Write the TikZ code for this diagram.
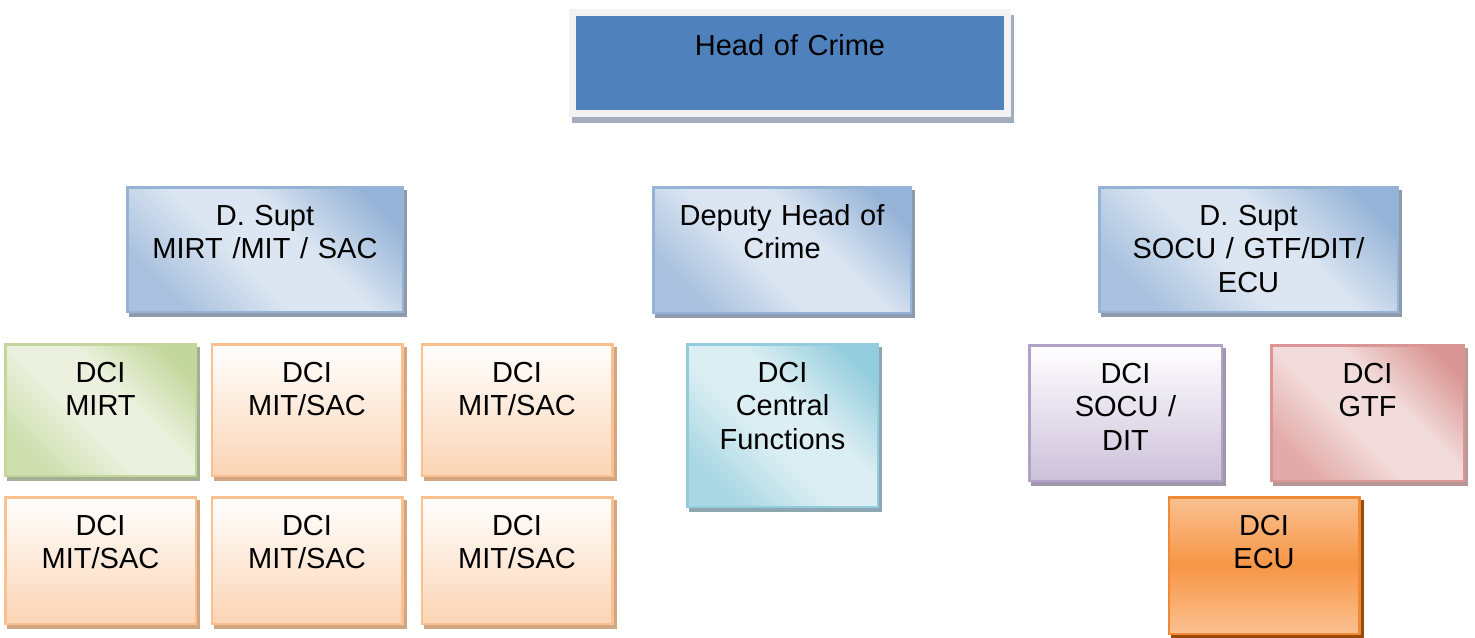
\documentclass[tikz,border=0pt]{standalone}
\usepackage{fontspec}
\setmainfont{Liberation Sans}
\usetikzlibrary{shadows}
\definecolor{hocfill}{HTML}{4F81BD}
\definecolor{hocframe}{HTML}{F2F2F2}
\definecolor{hocshadow}{HTML}{A3ACBA}
\definecolor{suptdark}{HTML}{95B3D7}
\definecolor{suptmid}{HTML}{A9C1DE}
\definecolor{suptlight}{HTML}{DCE6F2}
\definecolor{suptline}{HTML}{95B3D7}
\definecolor{suptshadow}{HTML}{8E9BAD}
\definecolor{mirtdark}{HTML}{C3D69B}
\definecolor{mirtmid}{HTML}{CFDFAF}
\definecolor{mirtlight}{HTML}{EBF1DE}
\definecolor{mirtshadow}{HTML}{A6AE94}
\definecolor{mitdark}{HTML}{FBD4B4}
\definecolor{mitline}{HTML}{FAC090}
\definecolor{mitshadow}{HTML}{D2A583}
\definecolor{cfdark}{HTML}{93CDDD}
\definecolor{cfmid}{HTML}{A9D7E3}
\definecolor{cflight}{HTML}{DBEEF3}
\definecolor{cfshadow}{HTML}{8CA7B0}
\definecolor{socudark}{HTML}{CCC1DA}
\definecolor{soculine}{HTML}{B3A2C7}
\definecolor{socushadow}{HTML}{A097AC}
\definecolor{gtfdark}{HTML}{D99694}
\definecolor{gtfmid}{HTML}{E2ABA9}
\definecolor{gtflight}{HTML}{F2DCDB}
\definecolor{gtfshadow}{HTML}{B89896}
\definecolor{ecumid}{HTML}{F79646}
\definecolor{ecuedge}{HTML}{FAC090}
\definecolor{eculine}{HTML}{F08A38}
\definecolor{ecushadow}{HTML}{9C4A08}
\pgfdeclareverticalshading{suptshade}{100bp}{color(0bp)=(suptmid); color(25bp)=(suptmid);
  color(44bp)=(suptlight); color(58bp)=(suptlight); color(78bp)=(suptdark); color(100bp)=(suptdark)}
\pgfdeclareverticalshading{mirtshade}{100bp}{color(0bp)=(mirtmid); color(25bp)=(mirtmid);
  color(44bp)=(mirtlight); color(58bp)=(mirtlight); color(78bp)=(mirtdark); color(100bp)=(mirtdark)}
\pgfdeclareverticalshading{cfshade}{100bp}{color(0bp)=(cfmid); color(25bp)=(cfmid);
  color(44bp)=(cflight); color(58bp)=(cflight); color(78bp)=(cfdark); color(100bp)=(cfdark)}
\pgfdeclareverticalshading{gtfshade}{100bp}{color(0bp)=(gtfmid); color(25bp)=(gtfmid);
  color(44bp)=(gtflight); color(58bp)=(gtflight); color(78bp)=(gtfdark); color(100bp)=(gtfdark)}
\begin{document}
\begin{tikzpicture}
  [x=0.5pt, y=-0.5pt,
  every node/.style={rectangle, inner sep=0pt, outer sep=0pt},
  unit/.style={line width=1.25pt},
  unitshadow/.style={general shadow={fill=#1, draw=#1, shadow xshift=1.5pt, shadow yshift=-2pt}},
  headbox/.style={fill=hocfill, draw=hocframe, line width=3.5pt,
    general shadow={fill=hocshadow, draw=hocshadow, shadow xshift=1.5pt, shadow yshift=-3pt}},
  suptbox/.style={unit, draw=suptline, shade, shading=suptshade, shading angle=-45, unitshadow=suptshadow},
  mirtbox/.style={unit, draw=mirtdark, shade, shading=mirtshade, shading angle=-45, unitshadow=mirtshadow},
  mitbox/.style={unit, draw=mitline, top color=white, bottom color=mitdark, unitshadow=mitshadow},
  cfbox/.style={unit, draw=cfdark, shade, shading=cfshade, shading angle=-45, unitshadow=cfshadow},
  socubox/.style={unit, draw=soculine, top color=white, bottom color=socudark, unitshadow=socushadow},
  gtfbox/.style={unit, draw=gtfdark, shade, shading=gtfshade, shading angle=-45, unitshadow=gtfshadow},
  ecubox/.style={unit, draw=eculine, top color=ecuedge, bottom color=ecuedge,
    middle color=ecumid, unitshadow=ecushadow},
  dcisize/.style={minimum width=95.25pt, minimum height=#1},
  txt/.style={anchor=base, text width=150pt, align=center,
    font=\fontsize{14.5pt}{16.75pt}\selectfont}]
  \useasboundingbox[fill=white] (0,0) rectangle (1475,637);

  \node[headbox, minimum width=217.5pt, minimum height=50.5pt] (hoc) at (790,63) {};
  \node[txt] (hoc-txt) at ([yshift=-21.25pt]hoc.north) {Head of Crime};

  \node[suptbox, minimum width=137.75pt, minimum height=62.25pt] (supt-mirt) at (265,249.5) {};
  \node[txt] (supt-mirt-txt) at ([yshift=-18.9pt]supt-mirt.north) {D. Supt\\MIRT /MIT / SAC};
  \node[suptbox, minimum width=128.75pt, minimum height=62.75pt] (deputy) at (782,250) {};
  \node[txt] (deputy-txt) at ([yshift=-18.9pt]deputy.north) {Deputy Head of\\Crime};
  \node[suptbox, minimum width=149.25pt, minimum height=62.25pt] (supt-socu) at (1248.5,249.5) {};
  \node[txt] (supt-socu-txt) at ([yshift=-18.9pt]supt-socu.north) {D. Supt\\SOCU / GTF/DIT/\\ECU};

  \node[mirtbox, dcisize=65.75pt] (dci-mirt) at (100.5,410) {};
  \node[txt] (dci-mirt-txt) at ([yshift=-18.9pt]dci-mirt.north) {DCI\\MIRT};
  \node[mitbox, dcisize=65.75pt] (dci-mit1) at (307,410) {};
  \node[txt] (dci-mit1-txt) at ([yshift=-18.9pt]dci-mit1.north) {DCI\\MIT/SAC};
  \node[mitbox, dcisize=65.75pt] (dci-mit2) at (517,410) {};
  \node[txt] (dci-mit2-txt) at ([yshift=-18.9pt]dci-mit2.north) {DCI\\MIT/SAC};
  \node[mitbox, dcisize=63.25pt] (dci-mit3) at (100.5,560.5) {};
  \node[txt] (dci-mit3-txt) at ([yshift=-18.9pt]dci-mit3.north) {DCI\\MIT/SAC};
  \node[mitbox, dcisize=63.25pt] (dci-mit4) at (307,560.5) {};
  \node[txt] (dci-mit4-txt) at ([yshift=-18.9pt]dci-mit4.north) {DCI\\MIT/SAC};
  \node[mitbox, dcisize=63.25pt] (dci-mit5) at (517,560.5) {};
  \node[txt] (dci-mit5-txt) at ([yshift=-18.9pt]dci-mit5.north) {DCI\\MIT/SAC};

  \node[cfbox, dcisize=81.25pt] (dci-cf) at (782.5,425.5) {};
  \node[txt] (dci-cf-txt) at ([yshift=-18.9pt]dci-cf.north) {DCI\\Central\\Functions};

  \node[socubox, dcisize=67.75pt, minimum width=96.25pt] (dci-socu) at (1125.5,413) {};
  \node[txt] (dci-socu-txt) at ([yshift=-18.9pt]dci-socu.north) {DCI\\SOCU /\\DIT};
  \node[gtfbox, dcisize=67.75pt, minimum width=96.25pt] (dci-gtf) at (1367.5,413) {};
  \node[txt] (dci-gtf-txt) at ([yshift=-18.9pt]dci-gtf.north) {DCI\\GTF};
  \node[ecubox, dcisize=68.25pt] (dci-ecu) at (1264,565.5) {};
  \node[txt] (dci-ecu-txt) at ([yshift=-18.9pt]dci-ecu.north) {DCI\\ECU};
\end{tikzpicture}
\end{document}
